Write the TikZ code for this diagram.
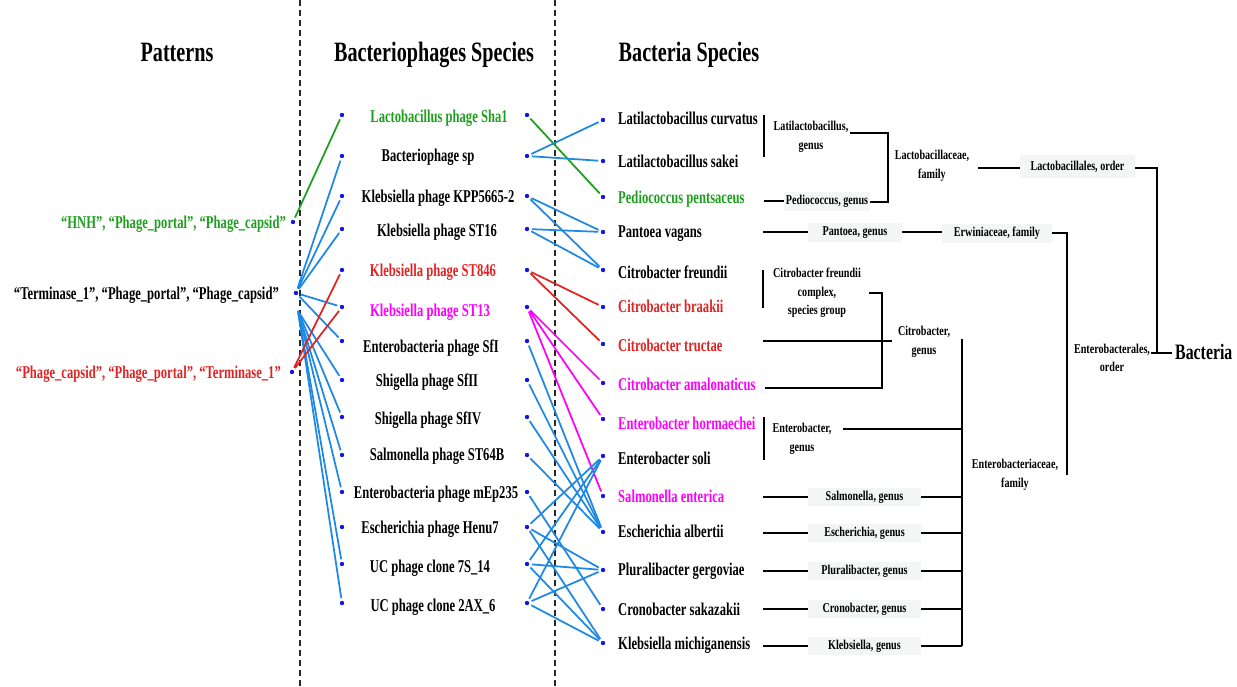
\documentclass[tikz,border=0pt]{standalone}
\usepackage{fontspec}
\setmainfont[FakeStretch=0.70]{Liberation Serif}
\newfontfamily\treefont[FakeStretch=0.75]{Liberation Serif}
\newfontfamily\headfont[FakeStretch=0.72]{Liberation Serif}
\definecolor{mygreen}{RGB}{30,158,30}
\definecolor{myred}{RGB}{225,35,35}
\definecolor{mymag}{RGB}{255,0,255}
\definecolor{lineblue}{RGB}{30,136,229}
\definecolor{dotblue}{RGB}{20,20,230}
\definecolor{boxgray}{RGB}{244,246,246}
\definecolor{dashgray}{RGB}{40,40,40}
\begin{document}
\begin{tikzpicture}[x=1pt,y=-1pt,
  dot/.style={circle,fill=dotblue,inner sep=0pt,minimum size=4.4pt},
  lab/.style={font=\fontsize{18}{21}\selectfont\bfseries,inner sep=0pt},
  plab/.style={lab,anchor=base,yshift=-6pt},
  blab/.style={lab,anchor=base west,yshift=-6pt},
  patlab/.style={lab,anchor=base east,yshift=-6pt},
  head/.style={font=\headfont\fontsize{28}{32}\selectfont\bfseries,inner sep=0pt,anchor=base},
  tlab/.style={font=\treefont\fontsize{13.5}{18.5}\selectfont\bfseries,inner sep=0pt,align=center},
  gbox/.style={tlab,fill=boxgray,minimum height=19pt},
  link/.style={line width=1.75pt,shorten <=2.5pt,shorten >=2.5pt},
  bl/.style={link,lineblue},
  gl/.style={link,mygreen},
  rl/.style={link,myred},
  ml/.style={link,mymag},
  tree/.style={line width=1.7pt,black},
  sep/.style={line width=1.4pt,dashgray,dash pattern=on 6pt off 4pt}
]
\useasboundingbox (0,0) rectangle (1237,686);

% separators
\draw[sep] (300,0) -- (300,686);
\draw[sep] (555,0) -- (555,686);

% headers
\node[head] (h1) at (177,61) {Patterns};
\node[head] (h2) at (434,61) {Bacteriophages Species};
\node[head] (h3) at (689,61) {Bacteria Species};

% patterns
\node[patlab,text=mygreen] (tG) at (286,222) {“HNH”, “Phage\_portal”, “Phage\_capsid”};
\node[patlab] (tT) at (279,293) {“Terminase\_1”, “Phage\_portal”, “Phage\_capsid”};
\node[patlab,text=myred] (tR) at (281,372) {“Phage\_capsid”, “Phage\_portal”, “Terminase\_1”};
\node[dot] (pG) at (293,222) {};
\node[dot] (pT) at (296,293) {};
\node[dot] (pR) at (292,372) {};
\coordinate (tlow) at (298,311);

% phages: left dots, labels, right dots
\foreach \n/\y in {sha/115,sp/156,kpp/196,st16/229,st846/270,st13/307,sfi/341,sfii/380,sfiv/417,st64b/455,mep/492,henu/527,s7/564,a2/603}{
  \node[dot] (L\n) at (342,\y) {};
  \node[dot] (R\n) at (527,\y) {};
}
\node[plab,text=mygreen] (nsha) at (439,116) {Lactobacillus phage Sha1};
\node[plab] (nsp) at (428,155) {Bacteriophage sp};
\node[plab] (nkpp) at (438,196) {Klebsiella phage KPP5665-2};
\node[plab] (nst16) at (437,230) {Klebsiella phage ST16};
\node[plab,text=myred] (nst846) at (433,270) {Klebsiella phage ST846};
\node[plab,text=mymag] (nst13) at (430,310) {Klebsiella phage ST13};
\node[plab] (nsfi) at (431,346) {Enterobacteria phage SfI};
\node[plab] (nsfii) at (427,380) {Shigella phage SfII};
\node[plab] (nsfiv) at (428,418) {Shigella phage SfIV};
\node[plab] (nst64b) at (437,454) {Salmonella phage ST64B};
\node[plab] (nmep) at (436,492) {Enterobacteria phage mEp235};
\node[plab] (nhenu) at (430,527) {Escherichia phage Henu7};
\node[plab] (ns7) at (430,566) {UC phage clone 7S\_14};
\node[plab] (na2) at (433,605) {UC phage clone 2AX\_6};

% bacteria
\foreach \n/\y in {curv/120,sakei/161,pedio/197,pant/232,freu/270,braak/307,truct/344,amal/383,horm/419,soli/456,salm/496,esch/532,plur/570,crono/609,kleb/643}{
  \node[dot] (B\n) at (603,\y) {};
}
\node[blab] (bcurv) at (618,118) {Latilactobacillus curvatus};
\node[blab] (bsakei) at (618,161) {Latilactobacillus sakei};
\node[blab,text=mygreen] (bpedio) at (618,197) {Pediococcus pentsaceus};
\node[blab] (bpant) at (618,231) {Pantoea vagans};
\node[blab] (bfreu) at (618,272) {Citrobacter freundii};
\node[blab,text=myred] (bbraak) at (618,306) {Citrobacter braakii};
\node[blab,text=myred] (btruct) at (618,345) {Citrobacter tructae};
\node[blab,text=mymag] (bamal) at (618,384) {Citrobacter amalonaticus};
\node[blab,text=mymag] (bhorm) at (618,423) {Enterobacter hormaechei};
\node[blab] (bsoli) at (618,458) {Enterobacter soli};
\node[blab,text=mymag] (bsalm) at (618,496) {Salmonella enterica};
\node[blab] (besch) at (618,531) {Escherichia albertii};
\node[blab] (bplur) at (618,569) {Pluralibacter gergoviae};
\node[blab] (bcrono) at (618,609) {Cronobacter sakazakii};
\node[blab] (bkleb) at (618,643) {Klebsiella michiganensis};

% left connectors
\draw[gl] (pG) -- (Lsha);
\foreach \t in {sp,kpp,st16,st13,sfi}{\draw[bl] (pT) -- (L\t);}
\foreach \t in {sfii,sfiv,st64b,mep,s7,a2}{\draw[bl,shorten <=0pt] (tlow) -- (L\t);}
\draw[rl] (pR) -- (Lst846);
\draw[rl] (pR) -- (Lst13);

% right connectors
\draw[gl] (Rsha) -- (Bpedio);
\draw[bl] (Rsp) -- (Bcurv);
\draw[bl] (Rsp) -- (Bsakei);
\draw[bl] (Rkpp) -- (Bpant);
\draw[bl] (Rkpp) -- (Bfreu);
\draw[bl] (Rst16) -- (Bpant);
\draw[bl] (Rst16) -- (Bfreu);
\draw[rl] (Rst846) -- (Bbraak);
\draw[rl] (Rst846) -- (Btruct);
\draw[ml] (Rst13) -- (Bamal);
\draw[ml] (Rst13) -- (Bhorm);
\draw[ml] (Rst13) -- (Bsalm);
\foreach \t in {sfi,sfii,sfiv,st64b}{\draw[bl] (R\t) -- (Besch);}
\draw[bl] (Rmep) -- (Bcrono);
\foreach \t in {henu,s7,a2}{
  \draw[bl] (R\t) -- (Bsoli);
  \draw[bl] (R\t) -- (Bplur);
  \draw[bl] (R\t) -- (Bkleb);
}

% taxonomy tree
\draw[tree] (764,115) -- (764,157);
\node[tlab] (glat) at (811,137) {Latilactobacillus,\\genus};
\draw[tree] (850,133) -- (888,133) -- (888,202) -- (870,202);
\draw[tree] (764,201) -- (784,201);
\node[gbox,minimum width=86pt] (gped) at (827,201) {Pediococcus, genus};
\node[tlab] (flac) at (932,166) {Lactobacillaceae,\\family};
\draw[tree] (978,168) -- (1020,168);
\node[gbox,minimum width=115pt,minimum height=23pt] (olac) at (1077.5,166.5) {Lactobacillales, order};
\draw[tree] (1135,168) -- (1157,168) -- (1157,353);
\draw[tree] (1151,353) -- (1172,353);
\node[font=\headfont\fontsize{22}{26}\selectfont\bfseries,inner sep=0pt,anchor=base west] (bact) at (1175,359) {Bacteria};
\node[tlab] (oent) at (1112,358) {Enterobacterales,\\order};

\draw[tree] (763,232) -- (808,232);
\node[gbox,minimum width=94pt] (gpan) at (855,232.5) {Pantoea, genus};
\draw[tree] (902,232) -- (942,232);
\node[gbox,minimum width=110pt] (ferw) at (997,233.5) {Erwiniaceae, family};
\draw[tree] (1052,233) -- (1067,233) -- (1067,475);

\draw[tree] (763,270) -- (763,308);
\node[tlab] (gcfc) at (817,293) {Citrobacter freundii\\complex,\\species group};
\draw[tree] (869,293) -- (882,293) -- (882,388) -- (765,388);
\draw[tree] (763,341) -- (892,341);
\node[tlab] (gcit) at (924,342) {Citrobacter,\\genus};

\draw[tree] (962,339) -- (962,646);
\draw[tree] (764,417) -- (764,460);
\node[tlab] (gent) at (802,439) {Enterobacter,\\genus};
\draw[tree] (843,429) -- (962,429);
\foreach \y/\t in {497/Salmonella,533/Escherichia,571/Pluralibacter,609/Cronobacter,646/Klebsiella}{
  \draw[tree] (763,\y) -- (808,\y);
  \node[gbox,minimum width=113pt,minimum height=18pt] at (864.5,\y) {\t, genus};
  \draw[tree] (921,\y) -- (962,\y);
}
\node[tlab] (fent) at (1015,475) {Enterobacteriaceae,\\family};
\end{tikzpicture}
\end{document}
